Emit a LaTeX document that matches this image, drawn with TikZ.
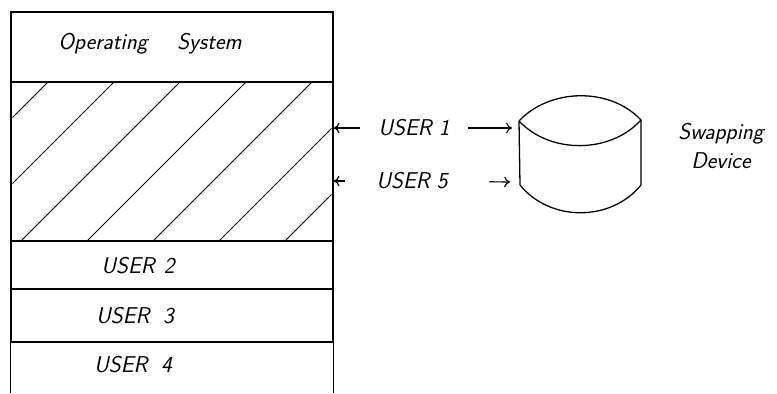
\documentclass[tikz,border=0pt]{standalone}
\usepackage{fontspec}
\usetikzlibrary{arrows.meta}
\begin{document}
\begin{tikzpicture}[x=0.03cm, y=-0.03cm]
	\tikzstyle{row}=[rectangle, minimum width=9.66cm, inner sep=0pt, draw=black, line width=1.1pt]
	\tikzstyle{hand}=[font=\sffamily\itshape\fontsize{19.5}{22}\selectfont]
	\tikzstyle{user}=[hand, inner xsep=0.55cm]
	\useasboundingbox (0,0) rectangle (777,394);

	% memory, top to bottom
	\node[row, minimum height=2.1cm] (os) at (172,47) {};
	\node[row, minimum height=4.77cm] (free) at (172,161.5) {};
	\node[row, minimum height=1.44cm] (user2) at (172,265) {};
	\node[row, minimum height=1.59cm] (user3) at (172,315.5) {};
	\node[row, minimum height=1.5cm, draw=none] (user4) at (172,367) {};
	\draw[line width=1.1pt] (user4.north west) -- (user4.south west)
		(user4.north east) -- (user4.south east);

	\node[hand] (oslabel) at (150,44) {Operating\hspace{1.3em}System};
	\node[hand] (u2label) at (138,266) {USER\hspace{0.4em}2};
	\node[hand] (u3label) at (135,316) {USER\hspace{0.6em}3};
	\node[hand] (u4label) at (133,365) {USER\hspace{0.6em}4};

	% hole left by the swapped out jobs
	\begin{scope}
		\clip ([shift={(2,2)}]free.north west) rectangle ([shift={(-2,-2)}]free.south east);
		\foreach \c in {130,196,...,526}
			\draw[line width=0.8pt] (\c-260,260) -- (\c-60,60);
	\end{scope}

	% swapping device
	\draw[line width=1.1pt] (519,121) .. controls (550,88) and (610,87) .. (641,120)
		(519,121) .. controls (550,154) and (610,154) .. (641,120)
		(520,185) .. controls (550,222) and (611,222) .. (641,185)
		(519,121) -- (520,185)
		(641,120) -- (641,185);
	\coordinate (in1) at (512,128);
	\coordinate (in5) at (510,182);
	\node[hand, align=center] (swap) at (721,146) {Swapping\\[3pt]Device};

	\node[user] (user1) at (414,128) {USER 1};
	\node[user] (user5) at (412,181) {USER 5};

	\path[-{To[length=5pt, width=9pt]}, line width=1pt]
		(user1) edge (user1.west -| free.east)
		(user1) edge (in1)
		(user5) edge[shorten <=0.39cm] (user5.west -| free.east)
		(user5) edge[shorten <=0.7cm] (in5);
\end{tikzpicture}
\end{document}
